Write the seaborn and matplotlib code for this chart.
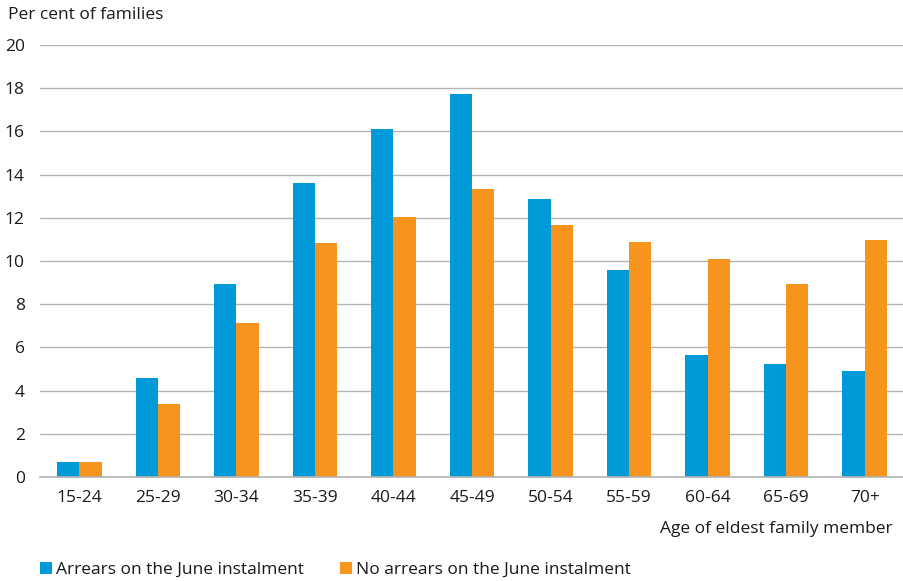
import matplotlib
matplotlib.use("Agg")
import matplotlib.pyplot as plt
import seaborn as sns
import pandas as pd
from matplotlib.patches import Patch

ages = ["15-24", "25-29", "30-34", "35-39", "40-44", "45-49", "50-54", "55-59", "60-64", "65-69", "70+"]
arrears = [0.7, 4.6, 8.95, 13.6, 16.1, 17.75, 12.85, 9.6, 5.65, 5.25, 4.9]
no_arrears = [0.68, 3.4, 7.15, 10.85, 12.05, 13.35, 11.65, 10.9, 10.1, 8.95, 10.95]
series_names = ["Arrears on the June instalment", "No arrears on the June instalment"]
colors = ["#009ad9", "#f7941d"]

df = pd.DataFrame({
    "age": ages * 2,
    "pct": arrears + no_arrears,
    "series": [series_names[0]] * len(ages) + [series_names[1]] * len(ages),
})

sns.set_theme(style="white")
plt.rcParams["font.family"] = ["Open Sans", "DejaVu Sans"]
FS = 12.5
text_color = "#1a1a1a"

fig = plt.figure(figsize=(9.04, 5.81), dpi=100)
ax = fig.add_axes([40 / 904, 1 - 477 / 581, 864 / 904, (477 - 45) / 581])

sns.barplot(data=df, x="age", y="pct", hue="series", palette=colors,
            width=0.567, saturation=1, linewidth=0, ax=ax, legend=False, zorder=3)

ax.set_xlim(-0.5, len(ages) - 0.5)
ax.set_ylim(0, 20)
ax.set_yticks(range(0, 21, 2))
ax.yaxis.grid(True, color="#b3b3b3", linewidth=1.0, zorder=0)
ax.set_axisbelow(True)
for s in ["top", "right", "left"]:
    ax.spines[s].set_visible(False)
ax.spines["bottom"].set_color("#b3b3b3")
ax.spines["bottom"].set_linewidth(1.2)
ax.spines["bottom"].set_zorder(4)

ax.tick_params(axis="y", length=0, pad=11, labelsize=FS, labelcolor=text_color)
ax.tick_params(axis="x", which="major", length=0, pad=9, labelsize=FS, labelcolor=text_color)
ax.set_xticks([i - 0.5 for i in range(len(ages) + 1)], minor=True)
ax.tick_params(axis="x", which="minor", direction="in", length=5, width=1, color="#b3b3b3")
for lab in ax.get_yticklabels():
    lab.set_horizontalalignment("right")

ax.set_xlabel("")
ax.set_ylabel("")

fig.text(8 / 904, 1 - 15 / 581, "Per cent of families", fontsize=FS, color=text_color,
         ha="left", va="center")
fig.text(893 / 904, 1 - 529 / 581, "Age of eldest family member", fontsize=FS, color=text_color,
         ha="right", va="center")

handles = [Patch(facecolor=c, edgecolor="none") for c in colors]
fig.legend(handles, series_names, loc="center left", bbox_to_anchor=(33 / 904, 1 - 570 / 581),
           ncol=2, frameon=False, fontsize=FS, handlelength=0.7, handleheight=0.7,
           handletextpad=0.2, columnspacing=2.1, borderaxespad=0, labelcolor=text_color)

fig.savefig("out.png", dpi=100)
